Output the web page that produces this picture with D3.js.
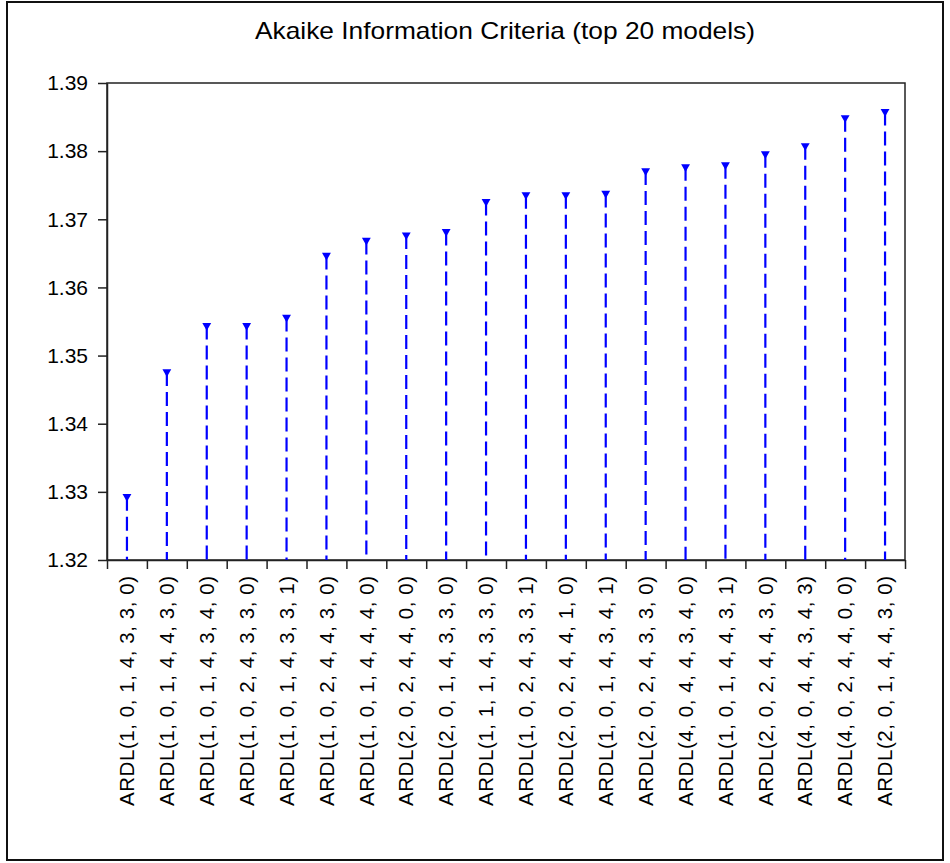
<!DOCTYPE html>
<html>
<head>
<meta charset="utf-8">
<script src="https://cdn.jsdelivr.net/npm/d3@7"></script>
<style>
  body { margin: 0; background: #fff; }
  text { font-family: Arial, "Liberation Sans", sans-serif; fill: #000; }
  .axis path, .axis line { stroke: #222; stroke-width: 1.5; }
</style>
</head>
<body>
<svg id="aic" width="950" height="863"></svg>
<script>
// model specs, ranked by AIC
var models = [
  "ARDL(1, 0, 1, 4, 3, 3, 0)", "ARDL(1, 0, 1, 4, 4, 3, 0)", "ARDL(1, 0, 1, 4, 3, 4, 0)",
  "ARDL(1, 0, 2, 4, 3, 3, 0)", "ARDL(1, 0, 1, 4, 3, 3, 1)", "ARDL(1, 0, 2, 4, 4, 3, 0)",
  "ARDL(1, 0, 1, 4, 4, 4, 0)", "ARDL(2, 0, 2, 4, 4, 0, 0)", "ARDL(2, 0, 1, 4, 3, 3, 0)",
  "ARDL(1, 1, 1, 4, 3, 3, 0)", "ARDL(1, 0, 2, 4, 3, 3, 1)", "ARDL(2, 0, 2, 4, 4, 1, 0)",
  "ARDL(1, 0, 1, 4, 3, 4, 1)", "ARDL(2, 0, 2, 4, 3, 3, 0)", "ARDL(4, 0, 4, 4, 3, 4, 0)",
  "ARDL(1, 0, 1, 4, 4, 3, 1)", "ARDL(2, 0, 2, 4, 4, 3, 0)", "ARDL(4, 0, 4, 4, 3, 4, 3)",
  "ARDL(4, 0, 2, 4, 4, 0, 0)", "ARDL(2, 0, 1, 4, 4, 3, 0)"
];
var aic = [
  1.3293, 1.3476, 1.3544, 1.3544, 1.3556, 1.3647, 1.3669, 1.3677, 1.3682, 1.3726,
  1.3736, 1.3736, 1.3738, 1.3771, 1.3777, 1.3780, 1.3796, 1.3808, 1.3849, 1.3858
];
var yTicks = [1.32, 1.33, 1.34, 1.35, 1.36, 1.37, 1.38, 1.39];

var svg = d3.select("#aic"),
  margin = { top: 83, right: 45, bottom: 303, left: 107 },
  width = +svg.attr("width") - margin.left - margin.right,
  height = +svg.attr("height") - margin.top - margin.bottom;

var data = models.map(function (m, i) { return { model: m, value: aic[i] }; });

// outer frame
svg.append("rect")
  .attr("x", 7).attr("y", 2).attr("width", 936).attr("height", 858)
  .attr("fill", "none").attr("stroke", "#111").attr("stroke-width", 2);

svg.append("text")
  .attr("x", 505).attr("y", 39)
  .attr("text-anchor", "middle")
  .attr("textLength", 500)
  .attr("lengthAdjust", "spacingAndGlyphs")
  .style("font-size", "24px")
  .text("Akaike Information Criteria (top 20 models)");

var x = d3.scaleBand().domain(models).range([0, width]).padding(0),
  xEdge = d3.scaleLinear().domain([0, models.length]).range([0, width]),
  y = d3.scaleLinear().domain([1.32, 1.39]).range([height, 0]);

var g = svg.append("g")
  .attr("transform", "translate(" + margin.left + "," + margin.top + ")");

// frame of plot area
g.append("rect")
  .attr("width", width).attr("height", height)
  .attr("fill", "none").attr("stroke", "#222").attr("stroke-width", 1.5);

g.append("g")
  .attr("class", "axis axis--y")
  .call(d3.axisLeft(y).tickValues(yTicks).tickSize(9).tickSizeOuter(0).tickPadding(10)
    .tickFormat(d3.format(".2f")))
  .selectAll("text").style("font-size", "21px");

g.append("g")
  .attr("class", "axis axis--x")
  .attr("transform", "translate(0," + height + ")")
  .call(d3.axisBottom(xEdge).tickValues(d3.range(0, models.length + 1)).tickSize(9)
    .tickSizeOuter(0).tickFormat(""));

g.selectAll(".xlab")
  .data(data)
  .enter().append("text")
  .attr("class", "xlab")
  .attr("transform", function (d) {
    return "translate(" + (x(d.model) + x.bandwidth() / 2) + "," + (height + 16) + ") rotate(-90)";
  })
  .attr("text-anchor", "end")
  .attr("dy", "0.35em")
  .attr("textLength", 230)
  .attr("lengthAdjust", "spacing")
  .style("font-size", "20.5px")
  .text(function (d) { return d.model; });

// stems
g.selectAll(".stem")
  .data(data)
  .enter().append("line")
  .attr("class", "stem")
  .attr("x1", function (d) { return x(d.model) + x.bandwidth() / 2; })
  .attr("x2", function (d) { return x(d.model) + x.bandwidth() / 2; })
  .attr("y1", function (d) { return y(d.value); })
  .attr("y2", height)
  .attr("stroke", "#0000ff")
  .attr("stroke-width", 2.2)
  .attr("stroke-dasharray", "14,6");

// markers
g.selectAll(".mark")
  .data(data)
  .enter().append("path")
  .attr("class", "mark")
  .attr("transform", function (d) {
    return "translate(" + (x(d.model) + x.bandwidth() / 2) + "," + y(d.value) + ") rotate(180)";
  })
  .attr("d", d3.symbol().type(d3.symbolTriangle).size(34))
  .attr("fill", "#0000ff");
</script>
</body>
</html>
